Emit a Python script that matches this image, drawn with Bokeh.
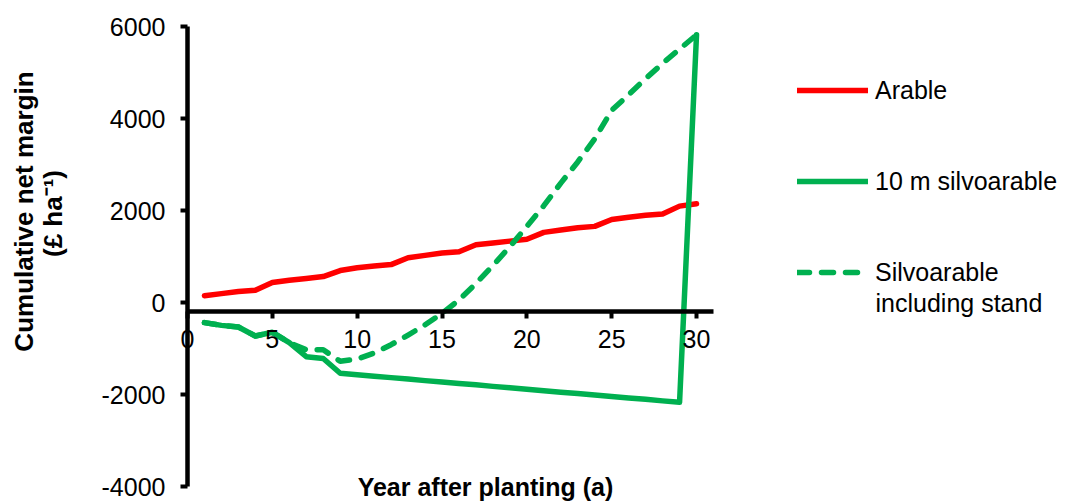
import math
from bokeh.plotting import figure
from bokeh.models import (LinearAxis, FixedTicker, Legend, LegendItem, Label, Range1d)
from bokeh.embed import file_html
from bokeh.resources import INLINE

# ---- data ----
years = list(range(1, 31))
arable = [155, 200, 245, 275, 440, 490, 530, 570, 700, 760,
          800, 830, 980, 1030, 1080, 1110, 1260, 1300, 1340, 1380,
          1530, 1580, 1630, 1660, 1810, 1860, 1900, 1930, 2100, 2150]
silvo_10m = [-430, -490, -525, -720, -640, -865, -1170, -1210, -1530, -1560,
             -1595, -1625, -1655, -1690, -1720, -1750, -1780, -1815, -1845, -1875,
             -1910, -1940, -1970, -2000, -2035, -2065, -2095, -2130, -2160, 5820]
silvo_stand = [-430, -490, -525, -720, -640, -865, -1020, -1020, -1270, -1220,
               -1090, -910, -700, -480, -230, 60, 420, 810, 1220, 1660,
               2110, 2600, 3060, 3560, 4180, 4520, 4870, 5200, 5510, 5820]
x_ticks = [0, 5, 10, 15, 20, 25, 30]
y_ticks = [-4000, -2000, 0, 2000, 4000, 6000]
y_tick_labels = {t: str(t) for t in y_ticks}
series_names = ["Arable", "10 m silvoarable", "Silvoarable", "including stand"]
x_title = "Year after planting (a)"
y_title_1 = "Cumulative net margin"
y_title_2 = "(£ ha\u207b\u00b9)"

RED = "#FF0000"
GREEN = "#00B050"
FONT = "Liberation Sans"

W, H = 1070, 502
p = figure(width=W, height=H, output_backend="svg", toolbar_location=None,
           x_axis_location=None, y_axis_location=None,
           x_range=Range1d(-11.02, 52.04), y_range=Range1d(-4337, 6566),
           min_border=0, min_border_left=0, min_border_right=0,
           min_border_top=0, min_border_bottom=0)
p.outline_line_color = None
p.xgrid.visible = False
p.ygrid.visible = False
p.background_fill_color = "white"
p.border_fill_color = "white"

r_ar = p.line(years, arable, line_color=RED, line_width=5.5, line_join="round", line_cap="round")
r_10 = p.line(years, silvo_10m, line_color=GREEN, line_width=5.5, line_join="round", line_cap="round")
r_st = p.line(years, silvo_stand, line_color=GREEN, line_width=5.5, line_dash="12 12",
              line_join="round", line_cap="round")

xaxis = LinearAxis(fixed_location=-185, bounds=(0, 31), ticker=FixedTicker(ticks=x_ticks))
yaxis = LinearAxis(fixed_location=0, bounds=(-4000, 6000), ticker=FixedTicker(ticks=y_ticks))
for ax in (xaxis, yaxis):
    ax.axis_line_width = 4.5
    ax.axis_line_color = "black"
    ax.major_tick_line_width = 4
    ax.major_tick_line_color = "black"
    ax.major_tick_in = 0
    ax.major_tick_out = 7
    ax.minor_tick_line_color = None
    ax.major_label_text_font = FONT
    ax.major_label_text_font_size = "25px"
    ax.major_label_text_color = "black"
xaxis.major_label_standoff = 12
yaxis.major_label_standoff = 15
yaxis.major_label_overrides = y_tick_labels
p.add_layout(xaxis, "below")
p.add_layout(yaxis, "left")

legend = Legend(items=[LegendItem(label=series_names[0], renderers=[r_ar]),
                       LegendItem(label=series_names[1], renderers=[r_10]),
                       LegendItem(label=series_names[2], renderers=[r_st])],
                location=(797, 215))
legend.border_line_color = None
legend.background_fill_alpha = 0
legend.padding = 0
legend.margin = 0
legend.glyph_width = 71
legend.glyph_height = 30
legend.label_height = 30
legend.spacing = 61
legend.label_standoff = 7
legend.label_text_font = FONT
legend.label_text_font_size = "25px"
legend.label_text_color = "black"
legend.label_text_baseline = "middle"
p.add_layout(legend)

p.add_layout(Label(x=40.55, y=0, text=series_names[3], text_font=FONT, text_color="black",
                   text_font_size="25px", text_baseline="middle", text_align="left"))
p.add_layout(Label(x=17.56, y=-3990, text=x_title, text_font=FONT, text_font_style="bold",
                   text_color="black",
                   text_font_size="25px", text_baseline="alphabetic", text_align="center"))
p.add_layout(Label(x=-9.61, y=1983, text=y_title_1, text_font=FONT, text_font_style="bold",
                   text_color="black",
                   text_font_size="26px", text_baseline="middle", text_align="center",
                   angle=math.pi / 2))
p.add_layout(Label(x=-7.9, y=1940, text=y_title_2, text_font=FONT, text_font_style="bold",
                   text_color="black",
                   text_font_size="26px", text_baseline="middle", text_align="center",
                   angle=math.pi / 2))

open("out.html", "w").write(file_html(p, INLINE))
